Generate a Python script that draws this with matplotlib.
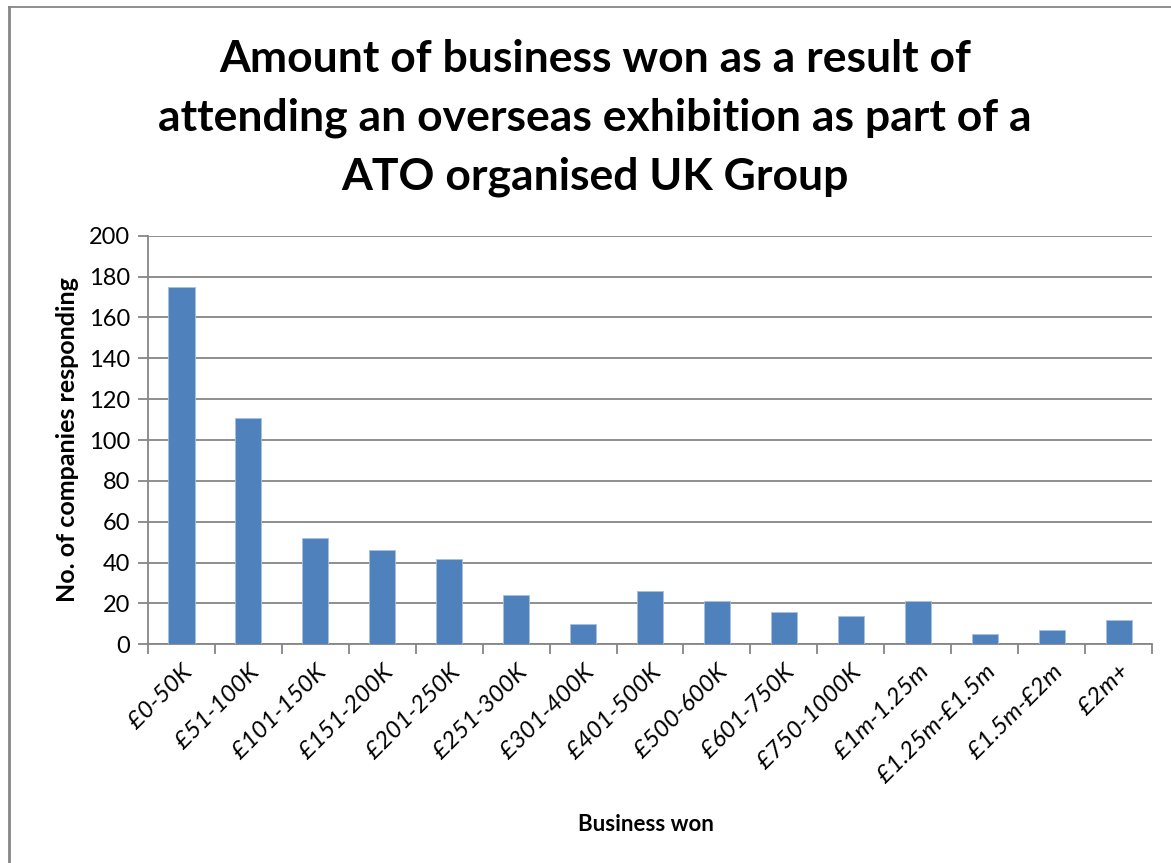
import matplotlib.pyplot as plt
from matplotlib.lines import Line2D
import numpy as np

plt.rcParams['font.family'] = ['Lato', 'DejaVu Sans']

# --- DATA ---
bands = ['£0-50K', '£51-100K', '£101-150K', '£151-200K', '£201-250K',
         '£251-300K', '£301-400K', '£401-500K', '£500-600K', '£601-750K',
         '£750-1000K', '£1m-1.25m', '£1.25m-£1.5m', '£1.5m-£2m', '£2m+']
companies = [175, 111, 52, 46, 42, 24, 10, 26, 21, 16, 14, 21, 5, 7, 12]

BAR = '#4f81bd'
GRID = '#868686'

fig = plt.figure(figsize=(11.71, 8.63), dpi=100)
ax = fig.add_axes([0.1264, 0.2534, 0.9838 - 0.1264, 0.7269 - 0.2534])

x = np.arange(len(bands))
ax.bar(x, companies, width=0.39, color=BAR, edgecolor='#a7c0de', linewidth=0.6, zorder=3)

ax.set_xlim(-0.5, len(bands) - 0.5)
ax.set_ylim(0, 200)
ax.set_yticks(range(0, 201, 20))
ax.yaxis.grid(True, color=GRID, linewidth=1.3, zorder=0)
ax.tick_params(axis='y', length=7, width=1.3, color=GRID, labelsize=17, pad=6)

# category boundary ticks below the axis
ax.set_xticks(np.arange(-0.5, len(bands), 1.0))
ax.set_xticklabels([])
ax.set_xticks(x, minor=True)
ax.set_xticklabels(bands, minor=True, rotation=45, ha='right', va='top',
                   rotation_mode='anchor', fontsize=17.5, style='italic')
ax.tick_params(axis='x', which='major', length=7, width=1.3, color=GRID)
ax.tick_params(axis='x', which='minor', length=0, pad=12)

for side in ['top', 'right']:
    ax.spines[side].set_visible(False)
for side in ['left', 'bottom']:
    ax.spines[side].set_color(GRID)
    ax.spines[side].set_linewidth(1.3)

ax.set_ylabel('No. of companies responding', fontsize=18, fontweight='bold', labelpad=7)
fig.text(0.552, 1 - 824 / 863, 'Business won', ha='center', va='center',
         fontsize=16, fontweight='bold')

fig.text(0.508, 1 - 118 / 863,
         'Amount of business won as a result of\n'
         'attending an overseas exhibition as part of a\n'
         'ATO organised UK Group',
         ha='center', va='center', fontsize=32, fontweight='bold', linespacing=1.55)

# chart frame (left and top edges)
fig.add_artist(Line2D([8.5 / 1171, 8.5 / 1171], [0, 1 - 7 / 863], color=GRID, lw=2))
fig.add_artist(Line2D([8.5 / 1171, 1], [1 - 7 / 863, 1 - 7 / 863], color=GRID, lw=1.3))

fig.savefig('out.png', dpi=100)
